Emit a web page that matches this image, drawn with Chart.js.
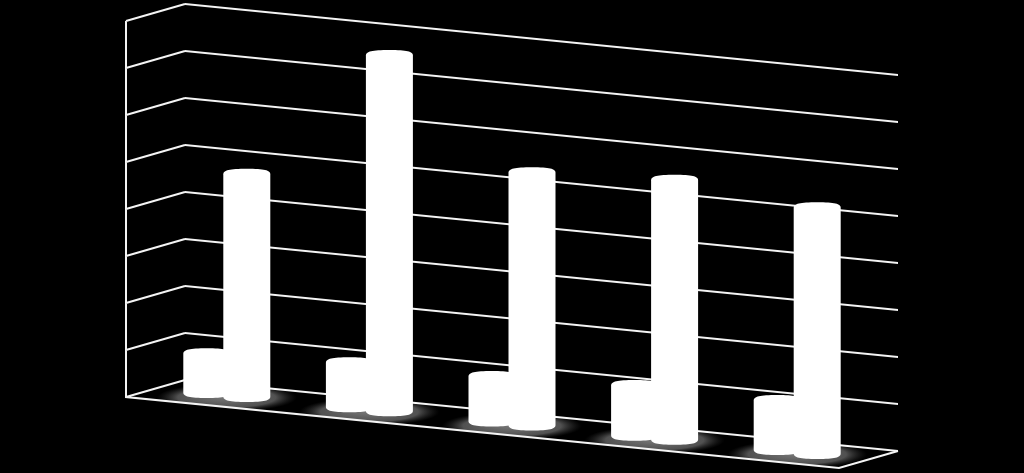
<!DOCTYPE html>
<html>
<head>
<meta charset="utf-8">
<style>
html,body{margin:0;padding:0;background:#000;}
#wrap{position:relative;width:1024px;height:473px;}
canvas{display:block;}
</style>
<script src="https://cdn.jsdelivr.net/npm/chart.js@4"></script>
</head>
<body>
<div id="wrap"><canvas id="c" width="1024" height="473"></canvas></div>
<script>
const categories = ['1', '2', '3', '4', '5'];
const seriesShort = [0.85, 0.96, 0.97, 1.08, 1.06];
const seriesTall = [4.75, 7.58, 5.39, 5.53, 5.25];
const axisMax = 8;

const SHEAR = 71 / 713;
const DEPTH_X = 59;
const DEPTH_Y = 17;
const CAP_RY = 5.5;
const CAP_K = 0.74;
const LINE = '#f4f4f4';
const LINE_W = 2;

let originX = 185;
function unshear(ctx, cx) {
  ctx.translate(cx, 0);
  ctx.transform(1, -SHEAR, 0, 1, 0, 0);
  ctx.translate(-cx, 0);
}

// Cylinder marks: drawn from each bar element's scale-derived geometry.
Chart.BarElement.prototype.draw = function (ctx) {
  const { x, y, base, width } = this.getProps(['x', 'y', 'base', 'width']);
  const cx = x - DEPTH_X / 2, half = width / 2;
  const top = y + DEPTH_Y / 2, bot = base + DEPTH_Y / 2;
  const L = cx - half, R = cx + half, r = CAP_RY, k = CAP_K;
  ctx.save();
  // keep the shear's vertical offset at the bar's wall position, but no tilt
  unshear(ctx, x);
  ctx.fillStyle = '#ffffff';
  ctx.beginPath();
  ctx.moveTo(L, top);
  ctx.bezierCurveTo(L, top - r * k, cx - half * k, top - r, cx, top - r);
  ctx.bezierCurveTo(cx + half * k, top - r, R, top - r * k, R, top);
  ctx.lineTo(R, bot);
  ctx.bezierCurveTo(R, bot + r * k, cx + half * k, bot + r, cx, bot + r);
  ctx.bezierCurveTo(cx - half * k, bot + r, L, bot + r * k, L, bot);
  ctx.closePath();
  ctx.fill();
  ctx.restore();
};

const shearPlugin = {
  id: 'shearWall',
  beforeDraw(chart) {
    const ctx = chart.ctx;
    originX = chart.chartArea.left;
    ctx.save();
    ctx.fillStyle = '#000';
    ctx.fillRect(0, 0, chart.width, chart.height);
    ctx.translate(originX, 0);
    ctx.transform(1, SHEAR, 0, 1, 0, 0);
    ctx.translate(-originX, 0);
  },
  beforeDatasetsDraw(chart) {
    const ctx = chart.ctx, ya = chart.scales.y, area = chart.chartArea;
    const y0 = ya.getPixelForValue(0);
    const rise = SHEAR * (area.right - area.left);
    ctx.save();
    ctx.translate(originX, 0);
    ctx.transform(1, -SHEAR, 0, 1, 0, 0);
    ctx.translate(-originX, 0);

    // soft floor shadows
    ctx.save();
    ctx.beginPath();
    ctx.moveTo(area.left, y0);
    ctx.lineTo(area.right, y0 + rise);
    ctx.lineTo(area.right - DEPTH_X, y0 + rise + DEPTH_Y);
    ctx.lineTo(area.left - DEPTH_X, y0 + DEPTH_Y);
    ctx.closePath();
    ctx.clip();
    const m0 = chart.getDatasetMeta(0).data, m1 = chart.getDatasetMeta(1).data;
    m0.forEach((b, i) => {
      const mid = (b.x + m1[i].x) / 2;
      const sx = mid - DEPTH_X / 2;
      const sy = y0 + SHEAR * (mid - originX) + DEPTH_Y / 2 + 2;
      ctx.save();
      ctx.translate(sx, sy);
      ctx.scale(1, 0.2);
      const g = ctx.createRadialGradient(0, 0, 0, 0, 0, 70);
      g.addColorStop(0, 'rgba(120,120,120,1)');
      g.addColorStop(0.7, 'rgba(95,95,95,0.85)');
      g.addColorStop(1, 'rgba(50,50,50,0)');
      ctx.fillStyle = g;
      ctx.globalCompositeOperation = 'lighter';
      ctx.fillRect(-70, -70, 140, 140);
      ctx.restore();
    });
    ctx.restore();

    // side wall and floor edges
    ctx.strokeStyle = LINE;
    ctx.lineWidth = LINE_W;
    ctx.lineJoin = 'miter';
    ctx.beginPath();
    ya.ticks.forEach(t => {
      const p = ya.getPixelForValue(t.value);
      ctx.moveTo(area.left, p);
      ctx.lineTo(area.left - DEPTH_X, p + DEPTH_Y);
    });
    const topP = ya.getPixelForValue(axisMax);
    ctx.moveTo(area.left - DEPTH_X, topP + DEPTH_Y);
    ctx.lineTo(area.left - DEPTH_X, y0 + DEPTH_Y);
    ctx.lineTo(area.right - DEPTH_X, y0 + rise + DEPTH_Y);
    ctx.lineTo(area.right, y0 + rise);
    ctx.stroke();
    ctx.restore();
  },
  afterDraw(chart) {
    chart.ctx.restore();
  }
};

new Chart(document.getElementById('c'), {
  type: 'bar',
  data: {
    labels: categories,
    datasets: [
      { label: 'Series 1', data: seriesShort, backgroundColor: '#ffffff', categoryPercentage: 0.561, barPercentage: 1.175, clip: false },
      { label: 'Series 2', data: seriesTall, backgroundColor: '#ffffff', categoryPercentage: 0.561, barPercentage: 1.175, clip: false }
    ]
  },
  options: {
    responsive: false,
    animation: false,
    events: [],
    layout: { padding: { left: 185, right: 126, top: 4, bottom: 93 } },
    plugins: { legend: { display: false }, title: { display: false }, tooltip: { enabled: false } },
    scales: {
      x: {
        grid: { display: false, drawTicks: false },
        border: { display: false },
        ticks: { display: false }
      },
      y: {
        min: 0,
        max: axisMax,
        grid: { color: LINE, lineWidth: LINE_W, drawTicks: false },
        border: { display: false },
        ticks: { display: false, stepSize: 1 }
      }
    }
  },
  plugins: [shearPlugin]
});
</script>
</body>
</html>
